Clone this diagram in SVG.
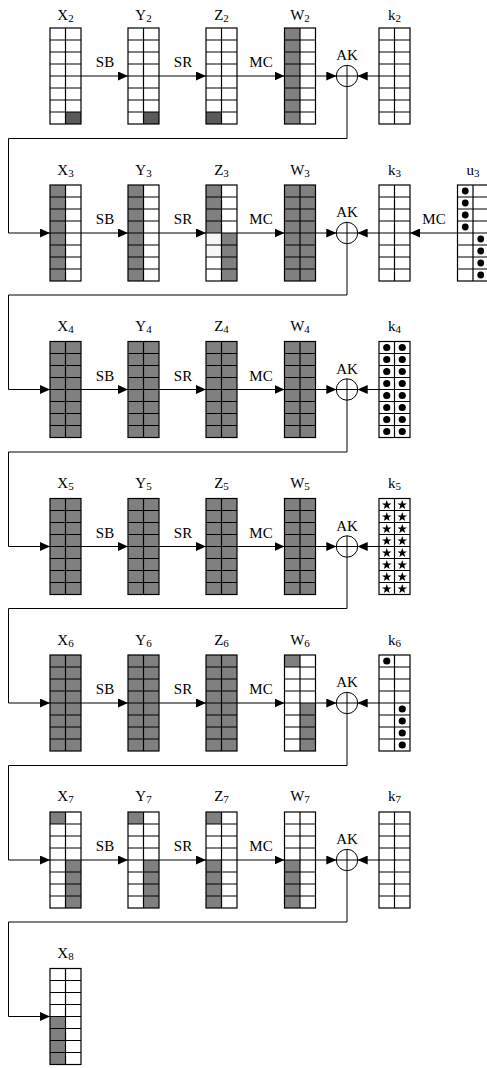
<svg xmlns="http://www.w3.org/2000/svg" xmlns:xlink="http://www.w3.org/1999/xlink" width="487" height="1068" viewBox="0 0 487 1068">
<style>
.g{fill:#808080}
.d{fill:#5a5a5a}
.gl{fill:none;stroke:#000;stroke-width:1.2}
.lb{font-family:"Liberation Serif",serif;font-size:15px;text-anchor:middle;fill:#000}
.sub{font-size:11px}
.op{font-family:"Liberation Serif",serif;font-size:15px;text-anchor:middle;fill:#000}
.c{fill:none;stroke:#000;stroke-width:1}
.a{fill:none;stroke:#000;stroke-width:1;marker-end:url(#ah)}
.dot{fill:#000}
</style>
<defs>
<marker id="ah" markerUnits="userSpaceOnUse" markerWidth="10" markerHeight="9" refX="10" refY="4.5" orient="auto"><path d="M0,0 L10,4.5 L0,9 Z" fill="#000"/></marker>
<g id="grd" class="gl"><rect x="0" y="0" width="31" height="96"/><path d="M15.5,0V96M0,12H31M0,24H31M0,36H31M0,48H31M0,60H31M0,72H31M0,84H31"/></g>
<path id="st" d="M0,-5 L1.18,-1.62 L4.76,-1.55 L1.9,0.62 L2.94,4.05 L0,2 L-2.94,4.05 L-1.9,0.62 L-4.76,-1.55 L-1.18,-1.62Z" fill="#000"/>
<g id="circ" class="c"><circle cx="0" cy="0" r="10.7"/><path d="M0,-10.7V10.7M-10.7,0H10.7"/></g>
</defs>

<g id="connectors">
<path class="a" d="M81,76H128"/><path class="a" d="M159,76H206"/><path class="a" d="M237,76H284.5"/><path class="a" d="M315.5,76H336.3"/><path class="a" d="M379,76H357.7"/>
<path class="a" d="M347,86.7V138.5H8.5V233H50"/>
<path class="a" d="M81,233H128"/><path class="a" d="M159,233H206"/><path class="a" d="M237,233H284.5"/><path class="a" d="M315.5,233H336.3"/><path class="a" d="M379,233H357.7"/><path class="a" d="M457.5,233H410"/>
<path class="a" d="M347,243.7V295H8.5V389.5H50"/>
<path class="a" d="M81,389.5H128"/><path class="a" d="M159,389.5H206"/><path class="a" d="M237,389.5H284.5"/><path class="a" d="M315.5,389.5H336.3"/><path class="a" d="M379,389.5H357.7"/>
<path class="a" d="M347,400.2V452H8.5V546.5H50"/>
<path class="a" d="M81,546.5H128"/><path class="a" d="M159,546.5H206"/><path class="a" d="M237,546.5H284.5"/><path class="a" d="M315.5,546.5H336.3"/><path class="a" d="M379,546.5H357.7"/>
<path class="a" d="M347,557.2V608.5H8.5V703H50"/>
<path class="a" d="M81,703H128"/><path class="a" d="M159,703H206"/><path class="a" d="M237,703H284.5"/><path class="a" d="M315.5,703H336.3"/><path class="a" d="M379,703H357.7"/>
<path class="a" d="M347,713.7V765.5H8.5V860H50"/>
<path class="a" d="M81,860H128"/><path class="a" d="M159,860H206"/><path class="a" d="M237,860H284.5"/><path class="a" d="M315.5,860H336.3"/><path class="a" d="M379,860H357.7"/>
<path class="a" d="M347,870.7V922H8.5V1016.5H50"/>
</g>

<g id="xor-nodes">
<g id="AK2"><use href="#circ" x="347" y="76"/><text class="op" x="347" y="60">AK</text></g>
<g id="AK3"><use href="#circ" x="347" y="233"/><text class="op" x="347" y="217">AK</text></g>
<g id="AK4"><use href="#circ" x="347" y="389.5"/><text class="op" x="347" y="373.5">AK</text></g>
<g id="AK5"><use href="#circ" x="347" y="546.5"/><text class="op" x="347" y="530.5">AK</text></g>
<g id="AK6"><use href="#circ" x="347" y="703"/><text class="op" x="347" y="687">AK</text></g>
<g id="AK7"><use href="#circ" x="347" y="860"/><text class="op" x="347" y="844">AK</text></g>
</g>

<g id="op-labels">
<text class="op" x="105" y="67">SB</text><text class="op" x="183" y="67">SR</text><text class="op" x="261" y="67">MC</text>
<text class="op" x="105" y="224">SB</text><text class="op" x="183" y="224">SR</text><text class="op" x="261" y="224">MC</text><text class="op" x="434" y="224">MC</text>
<text class="op" x="105" y="380.5">SB</text><text class="op" x="183" y="380.5">SR</text><text class="op" x="261" y="380.5">MC</text>
<text class="op" x="105" y="537.5">SB</text><text class="op" x="183" y="537.5">SR</text><text class="op" x="261" y="537.5">MC</text>
<text class="op" x="105" y="694">SB</text><text class="op" x="183" y="694">SR</text><text class="op" x="261" y="694">MC</text>
<text class="op" x="105" y="851">SB</text><text class="op" x="183" y="851">SR</text><text class="op" x="261" y="851">MC</text>
</g>

<g id="X2" transform="translate(50,28)"><rect class="d" x="15.5" y="84" width="15.5" height="12"/><use href="#grd"/><text class="lb" x="15.5" y="-8">X<tspan class="sub" dy="2">2</tspan></text></g>
<g id="Y2" transform="translate(128,28)"><rect class="d" x="15.5" y="84" width="15.5" height="12"/><use href="#grd"/><text class="lb" x="15.5" y="-8">Y<tspan class="sub" dy="2">2</tspan></text></g>
<g id="Z2" transform="translate(206,28)"><rect class="d" x="0" y="84" width="15.5" height="12"/><use href="#grd"/><text class="lb" x="15.5" y="-8">Z<tspan class="sub" dy="2">2</tspan></text></g>
<g id="W2" transform="translate(284.5,28)"><rect class="g" x="0" y="0" width="15.5" height="96"/><use href="#grd"/><text class="lb" x="15.5" y="-8">W<tspan class="sub" dy="2">2</tspan></text></g>
<g id="k2" transform="translate(379,28)"><use href="#grd"/><text class="lb" x="15.5" y="-8">k<tspan class="sub" dy="2">2</tspan></text></g>

<g id="X3" transform="translate(50,185)"><rect class="g" x="0" y="0" width="15.5" height="96"/><use href="#grd"/><text class="lb" x="15.5" y="-10">X<tspan class="sub" dy="2">3</tspan></text></g>
<g id="Y3" transform="translate(128,185)"><rect class="g" x="0" y="0" width="15.5" height="96"/><use href="#grd"/><text class="lb" x="15.5" y="-10">Y<tspan class="sub" dy="2">3</tspan></text></g>
<g id="Z3" transform="translate(206,185)"><rect class="g" x="0" y="0" width="15.5" height="48"/><rect class="g" x="15.5" y="48" width="15.5" height="48"/><rect fill="#f6f6f6" x="0" y="48" width="15.5" height="24"/><use href="#grd"/><text class="lb" x="15.5" y="-10">Z<tspan class="sub" dy="2">3</tspan></text></g>
<g id="W3" transform="translate(284.5,185)"><rect class="g" x="0" y="0" width="31" height="96"/><use href="#grd"/><text class="lb" x="15.5" y="-10">W<tspan class="sub" dy="2">3</tspan></text></g>
<g id="k3" transform="translate(379,185)"><use href="#grd"/><text class="lb" x="15.5" y="-10">k<tspan class="sub" dy="2">3</tspan></text></g>
<g id="u3" transform="translate(457.5,185)"><use href="#grd"/>
<circle class="dot" cx="7.75" cy="6" r="3.4"/><circle class="dot" cx="7.75" cy="18" r="3.4"/><circle class="dot" cx="7.75" cy="30" r="3.4"/><circle class="dot" cx="7.75" cy="42" r="3.4"/>
<circle class="dot" cx="23.25" cy="54" r="3.4"/><circle class="dot" cx="23.25" cy="66" r="3.4"/><circle class="dot" cx="23.25" cy="78" r="3.4"/><circle class="dot" cx="23.25" cy="90" r="3.4"/>
<text class="lb" x="15.5" y="-10">u<tspan class="sub" dy="2">3</tspan></text></g>

<g id="X4" transform="translate(50,341.5)"><rect class="g" x="0" y="0" width="31" height="96"/><use href="#grd"/><text class="lb" x="15.5" y="-11">X<tspan class="sub" dy="2">4</tspan></text></g>
<g id="Y4" transform="translate(128,341.5)"><rect class="g" x="0" y="0" width="31" height="96"/><use href="#grd"/><text class="lb" x="15.5" y="-11">Y<tspan class="sub" dy="2">4</tspan></text></g>
<g id="Z4" transform="translate(206,341.5)"><rect class="g" x="0" y="0" width="31" height="96"/><use href="#grd"/><text class="lb" x="15.5" y="-11">Z<tspan class="sub" dy="2">4</tspan></text></g>
<g id="W4" transform="translate(284.5,341.5)"><rect class="g" x="0" y="0" width="31" height="96"/><use href="#grd"/><text class="lb" x="15.5" y="-11">W<tspan class="sub" dy="2">4</tspan></text></g>
<g id="k4" transform="translate(379,341.5)"><use href="#grd"/>
<circle class="dot" cx="7.75" cy="6" r="3.6"/><circle class="dot" cx="23.25" cy="6" r="3.6"/>
<circle class="dot" cx="7.75" cy="18" r="3.6"/><circle class="dot" cx="23.25" cy="18" r="3.6"/>
<circle class="dot" cx="7.75" cy="30" r="3.6"/><circle class="dot" cx="23.25" cy="30" r="3.6"/>
<circle class="dot" cx="7.75" cy="42" r="3.6"/><circle class="dot" cx="23.25" cy="42" r="3.6"/>
<circle class="dot" cx="7.75" cy="54" r="3.6"/><circle class="dot" cx="23.25" cy="54" r="3.6"/>
<circle class="dot" cx="7.75" cy="66" r="3.6"/><circle class="dot" cx="23.25" cy="66" r="3.6"/>
<circle class="dot" cx="7.75" cy="78" r="3.6"/><circle class="dot" cx="23.25" cy="78" r="3.6"/>
<circle class="dot" cx="7.75" cy="90" r="3.6"/><circle class="dot" cx="23.25" cy="90" r="3.6"/>
<text class="lb" x="15.5" y="-11">k<tspan class="sub" dy="2">4</tspan></text></g>

<g id="X5" transform="translate(50,498.5)"><rect class="g" x="0" y="0" width="31" height="96"/><use href="#grd"/><text class="lb" x="15.5" y="-11">X<tspan class="sub" dy="2">5</tspan></text></g>
<g id="Y5" transform="translate(128,498.5)"><rect class="g" x="0" y="0" width="31" height="96"/><use href="#grd"/><text class="lb" x="15.5" y="-11">Y<tspan class="sub" dy="2">5</tspan></text></g>
<g id="Z5" transform="translate(206,498.5)"><rect class="g" x="0" y="0" width="31" height="96"/><use href="#grd"/><text class="lb" x="15.5" y="-11">Z<tspan class="sub" dy="2">5</tspan></text></g>
<g id="W5" transform="translate(284.5,498.5)"><rect class="g" x="0" y="0" width="31" height="96"/><use href="#grd"/><text class="lb" x="15.5" y="-11">W<tspan class="sub" dy="2">5</tspan></text></g>
<g id="k5" transform="translate(379,498.5)"><use href="#grd"/>
<use href="#st" x="7.75" y="6.5"/><use href="#st" x="23.25" y="6.5"/>
<use href="#st" x="7.75" y="18.5"/><use href="#st" x="23.25" y="18.5"/>
<use href="#st" x="7.75" y="30.5"/><use href="#st" x="23.25" y="30.5"/>
<use href="#st" x="7.75" y="42.5"/><use href="#st" x="23.25" y="42.5"/>
<use href="#st" x="7.75" y="54.5"/><use href="#st" x="23.25" y="54.5"/>
<use href="#st" x="7.75" y="66.5"/><use href="#st" x="23.25" y="66.5"/>
<use href="#st" x="7.75" y="78.5"/><use href="#st" x="23.25" y="78.5"/>
<use href="#st" x="7.75" y="90.5"/><use href="#st" x="23.25" y="90.5"/>
<text class="lb" x="15.5" y="-11">k<tspan class="sub" dy="2">5</tspan></text></g>

<g id="X6" transform="translate(50,655)"><rect class="g" x="0" y="0" width="31" height="96"/><use href="#grd"/><text class="lb" x="15.5" y="-10">X<tspan class="sub" dy="2">6</tspan></text></g>
<g id="Y6" transform="translate(128,655)"><rect class="g" x="0" y="0" width="31" height="96"/><use href="#grd"/><text class="lb" x="15.5" y="-10">Y<tspan class="sub" dy="2">6</tspan></text></g>
<g id="Z6" transform="translate(206,655)"><rect class="g" x="0" y="0" width="31" height="96"/><use href="#grd"/><text class="lb" x="15.5" y="-10">Z<tspan class="sub" dy="2">6</tspan></text></g>
<g id="W6" transform="translate(284.5,655)"><rect class="g" x="0" y="0" width="15.5" height="12"/><rect class="g" x="15.5" y="48" width="15.5" height="48"/><use href="#grd"/><text class="lb" x="15.5" y="-10">W<tspan class="sub" dy="2">6</tspan></text></g>
<g id="k6" transform="translate(379,655)"><use href="#grd"/>
<circle class="dot" cx="7.75" cy="6" r="3.6"/>
<circle class="dot" cx="23.25" cy="54" r="3.6"/><circle class="dot" cx="23.25" cy="66" r="3.6"/><circle class="dot" cx="23.25" cy="78" r="3.6"/><circle class="dot" cx="23.25" cy="90" r="3.6"/>
<text class="lb" x="15.5" y="-10">k<tspan class="sub" dy="2">6</tspan></text></g>

<g id="X7" transform="translate(50,812)"><rect class="g" x="0" y="0" width="15.5" height="12"/><rect class="g" x="15.5" y="48" width="15.5" height="48"/><use href="#grd"/><text class="lb" x="15.5" y="-11">X<tspan class="sub" dy="2">7</tspan></text></g>
<g id="Y7" transform="translate(128,812)"><rect class="g" x="0" y="0" width="15.5" height="12"/><rect class="g" x="15.5" y="48" width="15.5" height="48"/><use href="#grd"/><text class="lb" x="15.5" y="-11">Y<tspan class="sub" dy="2">7</tspan></text></g>
<g id="Z7" transform="translate(206,812)"><rect class="g" x="0" y="0" width="15.5" height="12"/><rect class="g" x="0" y="48" width="15.5" height="48"/><use href="#grd"/><text class="lb" x="15.5" y="-11">Z<tspan class="sub" dy="2">7</tspan></text></g>
<g id="W7" transform="translate(284.5,812)"><rect class="g" x="0" y="48" width="15.5" height="48"/><use href="#grd"/><text class="lb" x="15.5" y="-11">W<tspan class="sub" dy="2">7</tspan></text></g>
<g id="k7" transform="translate(379,812)"><use href="#grd"/><text class="lb" x="15.5" y="-11">k<tspan class="sub" dy="2">7</tspan></text></g>

<g id="X8" transform="translate(50,968.5)"><rect class="g" x="0" y="48" width="15.5" height="48"/><use href="#grd"/><text class="lb" x="15.5" y="-11">X<tspan class="sub" dy="2">8</tspan></text></g>
</svg>
